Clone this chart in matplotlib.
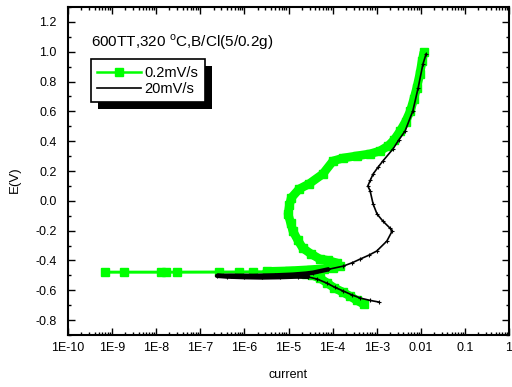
import matplotlib
matplotlib.use("Agg")
import matplotlib.pyplot as plt
from matplotlib.lines import Line2D
from matplotlib.patches import Rectangle
from matplotlib.transforms import IdentityTransform
from matplotlib.ticker import FixedLocator, LogLocator, MultipleLocator, NullFormatter

plt.rcParams['font.family'] = ['Liberation Sans', 'DejaVu Sans']
plt.rcParams['mathtext.fontset'] = 'custom'
plt.rcParams['mathtext.rm'] = 'Liberation Sans'

# 0.2 mV/s scan (green): current (A), potential (V)
slow_i = [5.1e-4, 3.5e-4, 2.5e-4, 1.7e-4, 1.1e-4, 7.6e-5, 5.1e-5, 3.5e-5, 2.5e-5, 1.6e-5,
          1.6e-6, 2.6e-7, 1.3e-8, 6.9e-10, 1.9e-9, 1.7e-8, 3.0e-8, 7.6e-7,
          3.2e-6, 1.0e-5, 3.2e-5, 6.3e-5, 1.0e-4, 1.5e-4,
          1.26e-4, 7.9e-5, 5.1e-5, 3.2e-5, 2.1e-5, 1.6e-5, 1.26e-5, 1.12e-5, 9.8e-6, 1.05e-5,
          1.15e-5, 1.74e-5, 2.9e-5, 6.0e-5, 1.02e-4, 1.74e-4, 3.5e-4, 7.1e-4, 1.17e-3, 1.82e-3,
          2.5e-3, 3.4e-3, 4.5e-3, 5.8e-3, 6.9e-3, 8.1e-3, 9.5e-3, 1.07e-2, 1.17e-2]
slow_e = [-0.693, -0.667, -0.640, -0.612, -0.585, -0.552, -0.518, -0.500, -0.490, -0.485,
          -0.478, -0.478, -0.478, -0.478, -0.478, -0.478, -0.478, -0.477,
          -0.474, -0.470, -0.462, -0.455, -0.448, -0.440,
          -0.417, -0.400, -0.390, -0.355, -0.317, -0.260, -0.203, -0.150, -0.089, -0.030,
          0.019, 0.079, 0.113, 0.180, 0.267, 0.287, 0.301, 0.315, 0.334, 0.368,
          0.410, 0.468, 0.530, 0.603, 0.680, 0.757, 0.850, 0.938, 0.995]

# 20 mV/s scan (black)
fast_i = [1.12e-3, 7.1e-4, 4.2e-4, 2.7e-4, 1.74e-4, 1.12e-4, 7.4e-5, 4.5e-5, 2.75e-5,
          1.6e-5, 6.3e-6, 2.5e-6, 1.0e-6, 4.0e-7, 2.4e-7, 5.0e-7, 1.6e-6, 5.0e-6, 1.26e-5,
          2.5e-5, 3.6e-5,
          7.9e-5, 1.74e-4, 2.8e-4, 4.2e-4, 6.6e-4, 1.0e-3, 1.7e-3, 2.24e-3, 2.0e-3, 1.38e-3,
          1.02e-3, 8.3e-4, 7.1e-4, 6.3e-4, 7.2e-4, 8.3e-4, 1.07e-3, 1.38e-3, 2.34e-3, 3.2e-3,
          4.4e-3, 6.6e-3, 8.7e-3, 1.12e-2, 1.32e-2]
fast_e = [-0.679, -0.668, -0.652, -0.630, -0.605, -0.580, -0.552, -0.525, -0.510,
          -0.508, -0.512, -0.514, -0.512, -0.508, -0.503, -0.502, -0.503, -0.500, -0.495,
          -0.488, -0.482,
          -0.460, -0.438, -0.415, -0.391, -0.365, -0.337, -0.270, -0.203, -0.183, -0.136,
          -0.089, -0.022, 0.066, 0.100, 0.140, 0.180, 0.225, 0.267, 0.348, 0.410,
          0.468, 0.603, 0.757, 0.918, 0.985]

x_ticks = [1e-10, 1e-9, 1e-8, 1e-7, 1e-6, 1e-5, 1e-4, 1e-3, 1e-2, 1e-1, 1]
x_labels = ['1E-10', '1E-9', '1E-8', '1E-7', '1E-6', '1E-5', '1E-4', '1E-3', '0.01', '0.1', '1']
y_ticks = [-0.8, -0.6, -0.4, -0.2, 0.0, 0.2, 0.4, 0.6, 0.8, 1.0, 1.2]

green = '#00ff00'

fig = plt.figure(figsize=(5.12, 3.87), dpi=100)
ax = fig.add_axes([68 / 512, 52 / 387, 441 / 512, 328 / 387])

# dense parts of the slow scan look like a solid band
ax.plot(slow_i[:10], slow_e[:10], color=green, lw=6.3, solid_capstyle='round')
ax.plot(slow_i[18:], slow_e[18:], color=green, lw=6.3, solid_capstyle='round', solid_joinstyle='round')
ax.plot(slow_i, slow_e, color=green, lw=1.8, marker='s', ms=5.5, mec=green)

ax.plot(fast_i[8:22], fast_e[8:22], color='black', lw=3.2, solid_capstyle='round')
ax.plot(fast_i, fast_e, color='black', lw=1.2, marker='+', ms=2.5, mew=0.8)

ax.set_xscale('log')
ax.set_xlim(1e-10, 1)
ax.set_ylim(-0.9, 1.3)
ax.xaxis.set_major_locator(FixedLocator(x_ticks))
ax.set_xticklabels(x_labels)
ax.xaxis.set_minor_locator(LogLocator(base=10, subs=range(2, 10), numticks=20))
ax.xaxis.set_minor_formatter(NullFormatter())
ax.set_yticks(y_ticks)
ax.set_yticklabels(['%.1f' % v for v in y_ticks])
ax.yaxis.set_minor_locator(MultipleLocator(0.1))

ax.tick_params(which='both', direction='in', top=True, right=True, labelsize=9)
ax.tick_params(which='major', length=5, width=1)
ax.tick_params(which='minor', length=2.5, width=1)
ax.tick_params(axis='x', pad=5)
ax.tick_params(axis='y', pad=8)
for s in ax.spines.values():
    s.set_linewidth(1.5)

ax.set_xlabel('current', fontsize=9)
ax.xaxis.set_label_coords(0.5, -0.122)
ax.xaxis.label.set_va('center')
ax.set_ylabel('E(V)', fontsize=9.5)
ax.yaxis.set_label_coords(-0.12, 0.473)
ax.yaxis.label.set_va('center')

ax.text(0.052, 0.893, '600TT,320 $^{\\mathrm{o}}$C,B/Cl(5/0.2g)', transform=ax.transAxes,
        fontsize=11, va='center', ha='left')

handles = [Line2D([], [], color=green, lw=1.8, marker='s', ms=6),
           Line2D([], [], color='black', lw=1.2)]
leg = ax.legend(handles, ['0.2mV/s', '20mV/s'], loc='upper left', bbox_to_anchor=(0.052, 0.841),
                borderaxespad=0, fancybox=False, edgecolor='black', framealpha=1, fontsize=10.5,
                handlelength=3.0, handletextpad=0.2, labelspacing=0.15, borderpad=0.45)
leg.get_frame().set_linewidth(1.2)

fig.canvas.draw()
bb = leg.get_frame().get_window_extent()
shadow = Rectangle((bb.x0 + 7, bb.y0 - 7), bb.width, bb.height, transform=IdentityTransform(),
                   facecolor='black', edgecolor='none', zorder=4.5, clip_on=False)
ax.add_patch(shadow)

fig.savefig('out.png', dpi=100)
